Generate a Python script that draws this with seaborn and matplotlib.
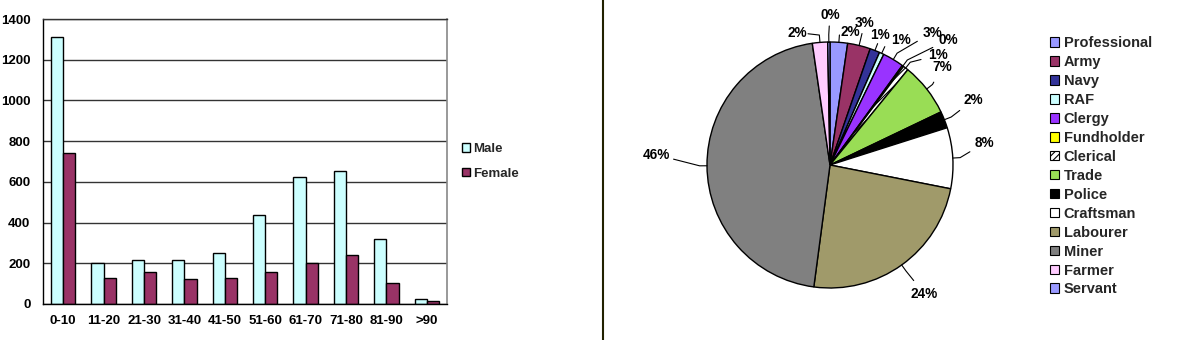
import numpy as np
import pandas as pd
import matplotlib
matplotlib.use('Agg')
import matplotlib.pyplot as plt
import seaborn as sns
from matplotlib.lines import Line2D
from matplotlib.patches import Patch

# ---------------- data ----------------
age_groups = ['0-10', '11-20', '21-30', '31-40', '41-50', '51-60', '61-70', '71-80', '81-90', '>90']
male = [1310, 200, 215, 215, 250, 435, 625, 655, 320, 25]
female = [740, 130, 155, 125, 130, 155, 200, 240, 105, 15]
sexes = ['Male', 'Female']
y_ticks = [0, 200, 400, 600, 800, 1000, 1200, 1400]

occupations = ['Professional', 'Army', 'Navy', 'RAF', 'Clergy', 'Fundholder', 'Clerical',
               'Trade', 'Police', 'Craftsman', 'Labourer', 'Miner', 'Farmer', 'Servant']
occ_share = [2.3, 3.0, 1.3, 0.6, 2.8, 0.2, 0.7, 7.0, 2.2, 8.0, 24.0, 45.6, 2.0, 0.3]

# ---------------- style ----------------
sex_colors = {'Male': '#CCFFFF', 'Female': '#993366'}
occ_colors = ['#9999FF', '#993366', '#333399', '#CCFFFF', '#9933FF', '#FFFF00', '#FFFFFF',
              '#99DD55', '#000000', '#FFFFFF', '#A09A6A', '#808080', '#FFCCFF', '#9999FF']
occ_hatch = [None, None, None, None, None, None, '/////', None, None, None, None, None, None, None]
# label layout: clockwise angular nudge (deg) from wedge middle, and radius factor
label_nudge = [4.5, 0.0, -0.5, 4.5, 6.7, 7.0, 6.5, -3.0, -2.8, -4.9, -0.6, 3.7, -9.3, 0.5]
label_radius = [1.09, 1.19, 1.13, 1.17, 1.36, 1.40, 1.25, 1.21, 1.28, 1.27, 1.30, 1.41, 1.11, 1.22]

sns.set_theme(style='white')
plt.rcParams['font.family'] = ['Liberation Sans', 'DejaVu Sans']
plt.rcParams['font.weight'] = 'bold'
plt.rcParams['hatch.linewidth'] = 0.8

W, H = 1182, 340
fig = plt.figure(figsize=(W / 100, H / 100), dpi=100)
fig.patch.set_facecolor('white')

# ---------------- bar chart ----------------
ax = fig.add_axes([43 / W, 36 / H, 404 / W, 285 / H])
df = pd.DataFrame({
    'Age': age_groups * 2,
    'Sex': ['Male'] * len(age_groups) + ['Female'] * len(age_groups),
    'Count': male + female,
})
sns.barplot(data=df, x='Age', y='Count', hue='Sex', hue_order=sexes, palette=sex_colors,
            edgecolor='black', linewidth=1, width=0.6, saturation=1, errorbar=None, ax=ax)
ax.set_xlim(-0.5, len(age_groups) - 0.5)
ax.set_ylim(0, 1400)
ax.set_yticks(y_ticks)
ax.set_yticklabels([str(t) for t in y_ticks])
ax.set_xlabel('')
ax.set_ylabel('')
ax.yaxis.grid(True, color='#333333', lw=1)
ax.xaxis.grid(False)
ax.set_axisbelow(True)
for s in ['left', 'bottom']:
    ax.spines[s].set_color('black')
    ax.spines[s].set_linewidth(1)
ax.spines['right'].set_color('#888888')
ax.spines['right'].set_linewidth(1.2)
ax.spines['top'].set_color('#333333')
ax.spines['top'].set_linewidth(1)
ax.set_xticks(np.arange(-0.5, len(age_groups), 1), minor=True)
ax.tick_params(axis='x', which='major', length=0, labelsize=9.5, pad=8, colors='black')
ax.tick_params(axis='x', which='minor', length=4, width=1, color='black', direction='out')
ax.tick_params(axis='y', which='major', length=4, width=1, color='black', direction='out',
               labelsize=9.5, pad=5, labelcolor='black')
for lab in ax.get_xticklabels() + ax.get_yticklabels():
    lab.set_fontweight('bold')

handles = [Patch(facecolor=sex_colors[s], edgecolor='black', linewidth=1) for s in sexes]
ax.legend(handles, sexes, loc='center left', bbox_to_anchor=(462 / W, (H - 161.5) / H),
          bbox_transform=fig.transFigure, frameon=False,
          handlelength=0.6, handleheight=0.6, handletextpad=0.25, labelspacing=0.95,
          borderpad=0, borderaxespad=0, prop={'weight': 'bold', 'size': 9.5})

# ---------------- separator ----------------
fig.add_artist(Line2D([603 / W, 603 / W], [0, 1], color='#222200', lw=1.5, transform=fig.transFigure))

# ---------------- pie chart ----------------
cx, cy, r_px = 830, H - 165, 123
half = 1.25 * r_px
pax = fig.add_axes([(cx - half) / W, (cy - half) / H, 2 * half / W, 2 * half / H])
wedges, _ = pax.pie(occ_share, colors=occ_colors, startangle=90, counterclock=False,
                    wedgeprops=dict(edgecolor='black', linewidth=1))
for w, h in zip(wedges, occ_hatch):
    if h:
        w.set_hatch(h)
pax.set_xlim(-1.25, 1.25)
pax.set_ylim(-1.25, 1.25)

for w, v, nud, rad in zip(wedges, occ_share, label_nudge, label_radius):
    mid = np.deg2rad((w.theta1 + w.theta2) / 2)
    ang = mid - np.deg2rad(nud)
    tx, ty = rad * np.cos(ang), rad * np.sin(ang)
    ex, ey = np.cos(mid), np.sin(mid)
    kx, ky = 1.06 * ex, 1.06 * ey
    dx, dy = tx - kx, ty - ky
    d = np.hypot(dx, dy)
    shrink = 0.14 if abs(tx) > 0.5 else 0.09
    if d > shrink:
        lx, ly = kx + dx * (d - shrink) / d, ky + dy * (d - shrink) / d
    else:
        lx, ly = kx, ky
    pax.plot([ex, kx, lx], [ey, ky, ly], color='black', lw=0.8, clip_on=False)
    pax.text(tx, ty, f"{round(v):.0f}%", ha='center', va='center', fontsize=9.8,
             fontweight='bold', color='black', clip_on=False)

leg_handles = [Patch(facecolor=c, edgecolor='black', linewidth=0.8, hatch=h)
               for c, h in zip(occ_colors, occ_hatch)]
fig.legend(leg_handles, occupations, loc='upper left', bbox_to_anchor=(1050 / W, (H - 36) / H),
           frameon=False, handlelength=0.65, handleheight=0.65, handletextpad=0.3,
           labelspacing=0.34, borderpad=0, borderaxespad=0,
           prop={'weight': 'bold', 'size': 10.5})

fig.savefig('out.png', dpi=100, facecolor='white')
